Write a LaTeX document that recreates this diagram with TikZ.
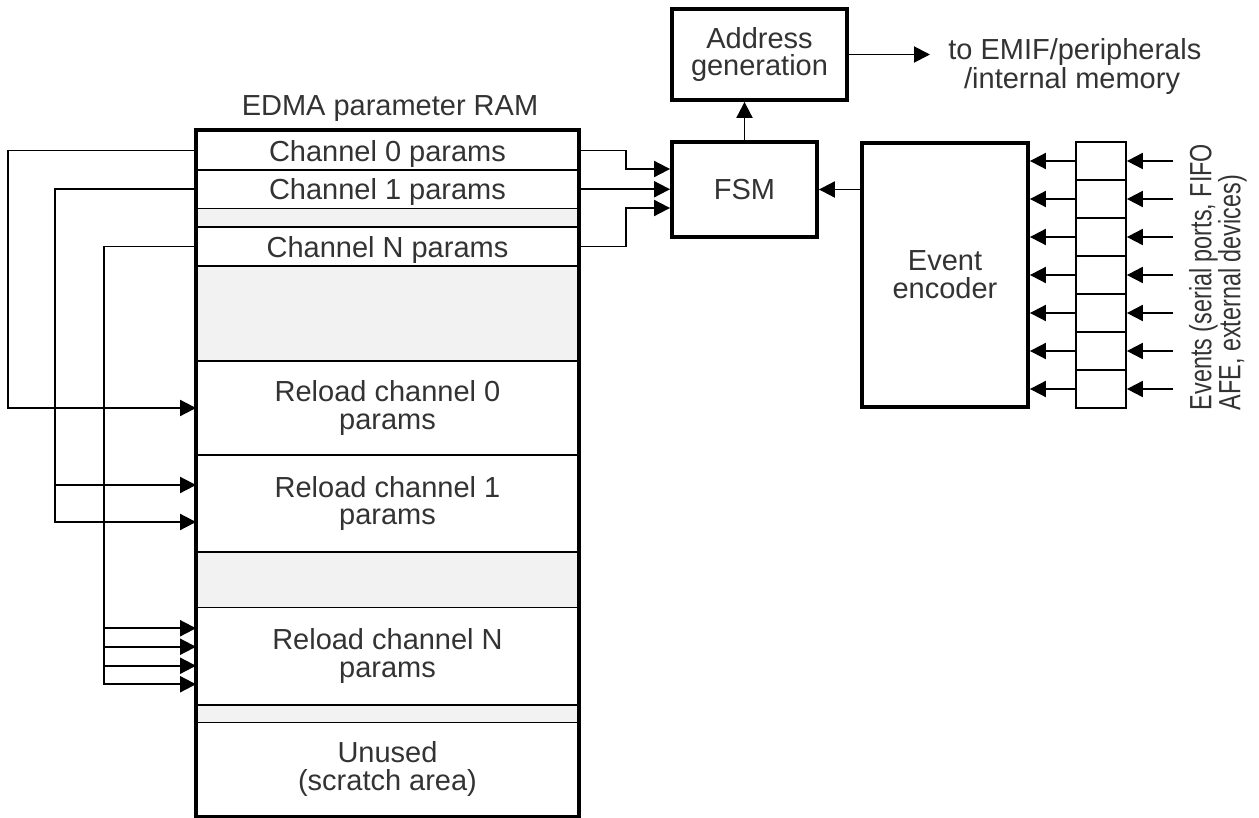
\documentclass[tikz,border=0pt]{standalone}
\usepackage{fontspec}
\setmainfont{Liberation Sans}
\newfontfamily\narrowsans[FakeStretch=0.76]{Liberation Sans}
\usepackage{tikz}
\usetikzlibrary{arrows.meta}
\usetikzlibrary{positioning,calc}
\usepackage{xcolor}
\definecolor{textgray}{HTML}{333333}
\definecolor{gapgray}{HTML}{F2F2F2}
\tikzset{
    row/.style={
        draw,
        line width=1.1pt,
        minimum width=7.62cm,
        inner sep=0pt,
        align=center,
        text=textgray
    },
    onerow/.style={
        row,
        text depth=0pt
    },
    gaprow/.style={
        row,
        fill=gapgray
    },
    block/.style={
        draw,
        line width=2.2pt,
        fill=white,
        align=center,
        inner sep=0pt,
        text=textgray
    },
    cell/.style={
        draw,
        line width=1pt,
        minimum width=1cm,
        minimum height=0.76cm,
        inner sep=0pt
    },
    link/.style={
        draw,
        line width=1.1pt,
        -{Triangle[length=0.32cm, width=0.32cm]}
    }
}
\tikzset{
  every node/.style={font=\fontsize{16.5pt}{15.8pt}\selectfont}
}

\begin{document}
\begin{tikzpicture}[x=0.02cm, y=-0.02cm]
    \useasboundingbox (0,0) rectangle (1259,818);

    % parameter RAM
    \node[text=textgray] (ramlabel) at (390,109) {EDMA parameter RAM};
    \node[onerow, minimum height=0.78cm] (ch0) at (387.5,150.5) {Channel 0 params};
    \node[onerow, minimum height=0.77cm] (ch1) at (387.5,189.25) {Channel 1 params};
    \node[gaprow, minimum height=0.37cm] (gapA) at (387.5,217.75) {};
    \node[onerow, minimum height=0.78cm] (chN) at (387.5,246.5) {Channel N params};
    \node[gaprow, minimum height=1.90cm] (gapB) at (387.5,313.5) {};
    \node[row, minimum height=1.88cm] (rl0) at (387.5,408) {Reload channel 0\\params};
    \node[row, minimum height=1.94cm] (rl1) at (387.5,503.5) {Reload channel 1\\params};
    \node[gaprow, minimum height=1.11cm] (gapC) at (387.5,579.75) {};
    \node[row, minimum height=1.95cm] (rlN) at (387.5,656.25) {Reload channel N\\params};
    \node[gaprow, minimum height=0.35cm] (gapD) at (387.5,713.75) {};
    \node[row, minimum height=1.87cm] (unused) at (387.5,769.25) {Unused\\(scratch area)};
    \draw[line width=2.4pt] (ch0.north west) rectangle (unused.south east);

    % blocks
    \node[block, minimum width=2.9cm, minimum height=1.9cm] (fsm) at (744.5,189.5) {FSM};
    \node[block, minimum width=3.5cm, minimum height=1.82cm] (addr) at (759.5,54.5) {Address\\generation};
    \node[block, minimum width=3.32cm, minimum height=5.28cm] (enc) at (945,275) {Event\\encoder};
    \node[text=textgray, align=left, anchor=west, inner sep=0pt,
          font=\fontsize{16.5pt}{12.5pt}\selectfont] (dest) at (948,66.5)
          {to EMIF/peripherals\\\hspace{9pt}/internal memory};
    \node[text=textgray, rotate=90, align=left,
          font=\narrowsans\fontsize{17.5pt}{16.5pt}\selectfont] (events) at (1218,277)
          {Events (serial ports, FIFO\\AFE, external devices)};

    % event register
    \foreach \i in {0,...,6} {
        \node[cell] (reg\i) at (1101,{161+38*\i}) {};
        \coordinate (ev\i) at (1173,{161+38*\i});
        \draw[link] (ev\i) -- (reg\i.east);
        \draw[link] (reg\i.west) -- (reg\i.west -| enc.east);
    }

    % reload links
    \coordinate (bus0) at (8,150.5);
    \coordinate (bus1) at (55,189.25);
    \coordinate (busN) at (104,246.5);
    \draw[link] (ch0.west) -- (bus0) |- (rl0.west);
    \draw[link] (ch1.west) -- (bus1) |- ([yshift=0.37cm]rl1.west);
    \draw[link] (bus1) |- ([yshift=-0.37cm]rl1.west);
    \draw[link] (chN.west) -- (busN) |- ([yshift=0.56cm]rlN.west);
    \foreach \s in {0.19,-0.19,-0.56}
        \draw[link] (busN) |- ([yshift=\s cm]rlN.west);

    % into the FSM
    \draw[link] (ch0.east) -- ++(47,0) |- ([yshift=0.41cm]fsm.west);
    \draw[link] (ch1.east) -- (ch1.east -| fsm.west);
    \draw[link] (chN.east) -- ++(47,0) |- ([yshift=-0.37cm]fsm.west);
    \draw[link] (fsm.east -| enc.west) -- (fsm.east);
    \draw[link] (fsm.north) -- (fsm.north |- addr.south);
    \coordinate (out) at (930,54.5);
    \draw[link] (addr.east) -- (out);
\end{tikzpicture}
\end{document}
